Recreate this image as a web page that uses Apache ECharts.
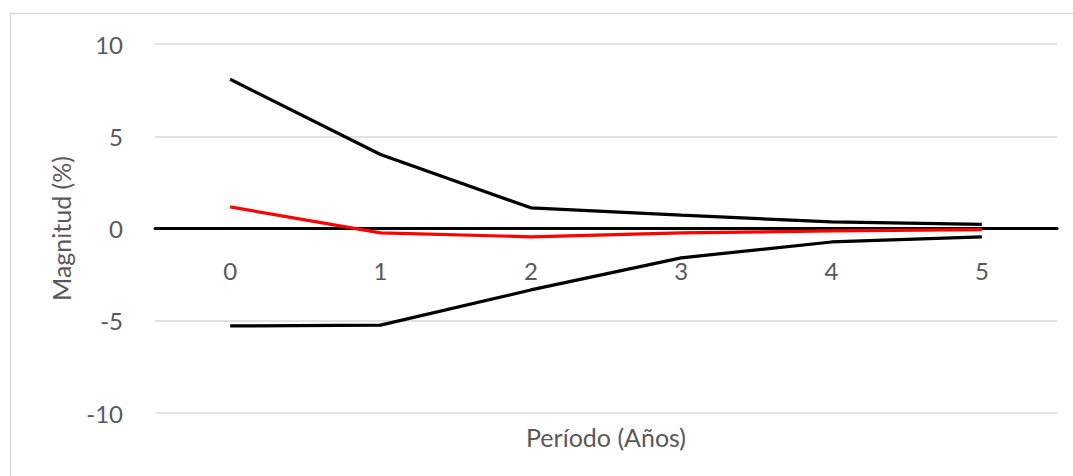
<!DOCTYPE html>
<html>
<head>
<meta charset="utf-8">
<script src="https://cdn.jsdelivr.net/npm/echarts@6/dist/echarts.min.js"></script>
<style>
html,body{margin:0;padding:0;background:#fff;}
#chart{width:1073px;height:476px;}
</style>
</head>
<body>
<div id="chart"></div>
<script>
const categories = ['0', '1', '2', '3', '4', '5'];
const upperBand = [8.09, 4.01, 1.12, 0.72, 0.36, 0.22];
const response = [1.17, -0.24, -0.45, -0.24, -0.13, -0.06];
const lowerBand = [-5.28, -5.24, -3.33, -1.59, -0.73, -0.45];
const yTicks = { min: -10, max: 10, interval: 5 };
const xTitle = 'Período (Años)';
const yTitle = 'Magnitud (%)';

const FONT = 'Lato, "Open Sans", sans-serif';
const GRID = { left: 155, right: 16, top: 44, bottom: 63 };
const W = 1073, H = 476;
const plotH = H - GRID.top - GRID.bottom;
const plotCenterX = GRID.left + (W - GRID.left - GRID.right) / 2;
// shift the x axis (line + labels) from the bottom of the grid up to the value 0
const zeroOffset = -plotH * (0 - yTicks.min) / (yTicks.max - yTicks.min);

const chart = echarts.init(document.getElementById('chart'), null, { renderer: 'svg' });
chart.setOption({
  backgroundColor: '#ffffff',
  animation: false,
  grid: GRID,
  graphic: [
    { type: 'rect', left: 8, top: 11, shape: { width: 1100, height: 500 },
      style: { fill: 'none', stroke: '#d9d9d9', lineWidth: 1.5 }, silent: true, z: -10 },
    { type: 'text', x: plotCenterX, y: 437,
      style: { text: xTitle, font: '25px ' + FONT, fill: '#595959',
               align: 'center', verticalAlign: 'middle',
               textAlign: 'center', textVerticalAlign: 'middle' }, z: 10 }
  ],
  xAxis: {
    type: 'category',
    data: categories,
    boundaryGap: true,
    offset: zeroOffset,
    axisLine: { onZero: false, lineStyle: { color: '#000000', width: 3 } },
    axisTick: { show: false },
    axisLabel: { color: '#595959', fontSize: 24, fontFamily: FONT, margin: 30 },
    splitLine: { show: false }
  },
  yAxis: {
    type: 'value',
    min: yTicks.min, max: yTicks.max, interval: yTicks.interval,
    name: yTitle,
    nameLocation: 'middle',
    nameRotate: 90,
    nameGap: 82,
    nameTextStyle: { color: '#595959', fontSize: 25, fontFamily: FONT },
    axisLine: { show: false },
    axisTick: { show: false },
    axisLabel: { color: '#595959', fontSize: 24, fontFamily: FONT, margin: 32 },
    splitLine: { lineStyle: { color: '#d9d9d9', width: 1.5 } }
  },
  series: [
    { name: 'upper', type: 'line', data: upperBand, showSymbol: false, symbol: 'none',
      lineStyle: { color: '#000000', width: 3.2 }, z: 3 },
    { name: 'lower', type: 'line', data: lowerBand, showSymbol: false, symbol: 'none',
      lineStyle: { color: '#000000', width: 3.2 }, z: 3 },
    { name: 'response', type: 'line', data: response, showSymbol: false, symbol: 'none',
      lineStyle: { color: '#ff0000', width: 3.2 }, z: 4 }
  ]
});
</script>
</body>
</html>
